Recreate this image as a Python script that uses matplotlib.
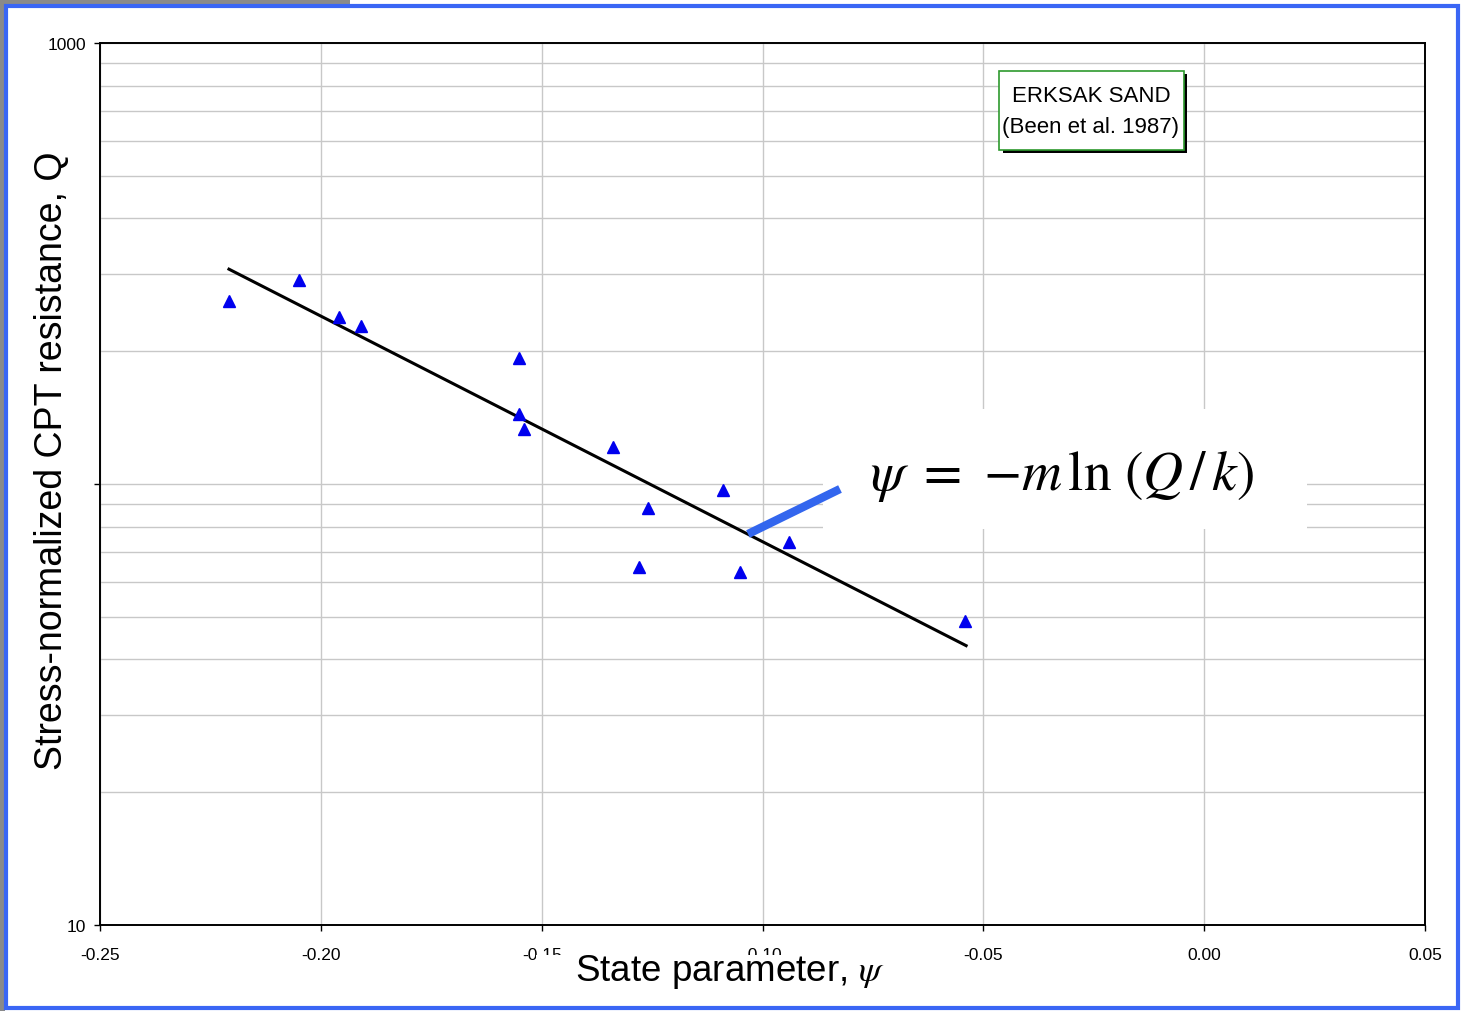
import matplotlib.pyplot as plt
from matplotlib.patches import Rectangle
from matplotlib.lines import Line2D

plt.rcParams['font.family'] = ['Liberation Sans', 'DejaVu Sans']
plt.rcParams['mathtext.fontset'] = 'stix'

# data
psi = [-0.2208, -0.2049, -0.1959, -0.1909, -0.1551, -0.1551, -0.1540,
       -0.1338, -0.1089, -0.1259, -0.0940, -0.1280, -0.1051, -0.0542]
Q = [260, 290, 239, 228, 193, 144, 133, 121, 97, 88, 74, 65, 63, 49]

fit_psi = [-0.2208, -0.0539]
fit_Q = [307, 43]

xticks = [-0.25, -0.20, -0.15, -0.10, -0.05, 0.00, 0.05]
xticklabels = ['-0.25', '-0.20', '-0.15', '-0.10', '-0.05', '0.00', '0.05']
yticks = [10, 100, 1000]
yticklabels = ['10', '', '1000']

W, H = 1468, 1012


def px(x, y):
    # pixel (from top-left) -> figure fraction
    return x / W, 1 - y / H


fig = plt.figure(figsize=(W / 100, H / 100), dpi=100)
ax = fig.add_axes([100 / W, 1 - 926 / H, (1425 - 100) / W, (926 - 44) / H])

ax.set_yscale('log')
ax.set_xlim(-0.25, 0.05)
ax.set_ylim(10, 1000)

ax.plot(fit_psi, fit_Q, color='black', lw=2.2, zorder=3)
ax.plot(psi, Q, ls='none', marker='^', ms=8.5, color='#0000ee', mec='#0000ee', zorder=4)

ax.set_xticks(xticks)
ax.set_xticklabels(xticklabels)
ax.set_yticks(yticks)
ax.set_yticklabels(yticklabels)
ax.set_yticks([v * d for d in (10, 100) for v in range(2, 10)], minor=True)
ax.tick_params(axis='y', which='minor', length=0)
ax.tick_params(axis='both', which='major', direction='out', length=4, width=1,
               labelsize=12.5, pad=6)
ax.tick_params(axis='x', which='major', pad=12)

ax.grid(True, which='major', axis='x', color='#c8c8c8', lw=1)
ax.grid(True, which='both', axis='y', color='#c8c8c8', lw=1)
ax.set_axisbelow(True)
for sp in ax.spines.values():
    sp.set_linewidth(1.4)
    sp.set_color('black')

# legend-like box with shadow
x0, y0 = px(1003, 154)
fig.add_artist(Rectangle((x0, y0), 184 / W, 79 / H, transform=fig.transFigure,
                         fc='black', ec='none', zorder=5))
x0, y0 = px(999, 151)
fig.add_artist(Rectangle((x0, y0), 185 / W, 79 / H, transform=fig.transFigure,
                         fc='white', ec='#2e9a2e', lw=1.2, zorder=6))
fig.text(*px(1091, 96), 'ERKSAK SAND', ha='center', va='center', fontsize=16,
         zorder=7)
fig.text(*px(1091, 128), '(Been et al. 1987)', ha='center', va='center', fontsize=16,
         zorder=7)

# equation with white background
x0, y0 = px(823, 530)
fig.add_artist(Rectangle((x0, y0), 484 / W, 120 / H, transform=fig.transFigure,
                         fc='white', ec='none', zorder=5))
fig.text(*px(1062, 477), r'$\psi\ =\ {-m}\,\ln\,(Q\,/\,k)$', ha='center', va='center',
         fontsize=40, zorder=7)
xa, ya = px(748, 535)
xb, yb = px(840, 490)
fig.add_artist(Line2D([xa, xb], [ya, yb], transform=fig.transFigure,
                      color='#3366ee', lw=6, solid_capstyle='butt', zorder=6))

# axis labels (white box partly hides two tick labels, as in the original)
x0, y0 = px(536, 1000)
fig.add_artist(Rectangle((x0, y0), 368 / W, 44 / H, transform=fig.transFigure,
                         fc='white', ec='none', zorder=5))
fig.text(*px(730, 972), r'State parameter, $\psi$', ha='center', va='center',
         fontsize=26.5, zorder=7)
fig.text(*px(52, 461), 'Stress-normalized CPT resistance, Q', ha='center', va='center',
         rotation=90, fontsize=27, zorder=7)

# outer frame
fig.add_artist(Rectangle((0, 1 - 7 / H), 350 / W, 7 / H, transform=fig.transFigure,
                         fc='#8a8a8a', ec='none', zorder=1))
fig.add_artist(Rectangle((0, 0), 5 / W, 1, transform=fig.transFigure,
                         fc='#8a8a8a', ec='none', zorder=1))
x0, y0 = px(6, 1009)
fig.add_artist(Rectangle((x0, y0), 1452 / W, 1002 / H, transform=fig.transFigure,
                         fc='none', ec='#3a66f5', lw=3, zorder=8))

fig.savefig('out.png', dpi=100)
